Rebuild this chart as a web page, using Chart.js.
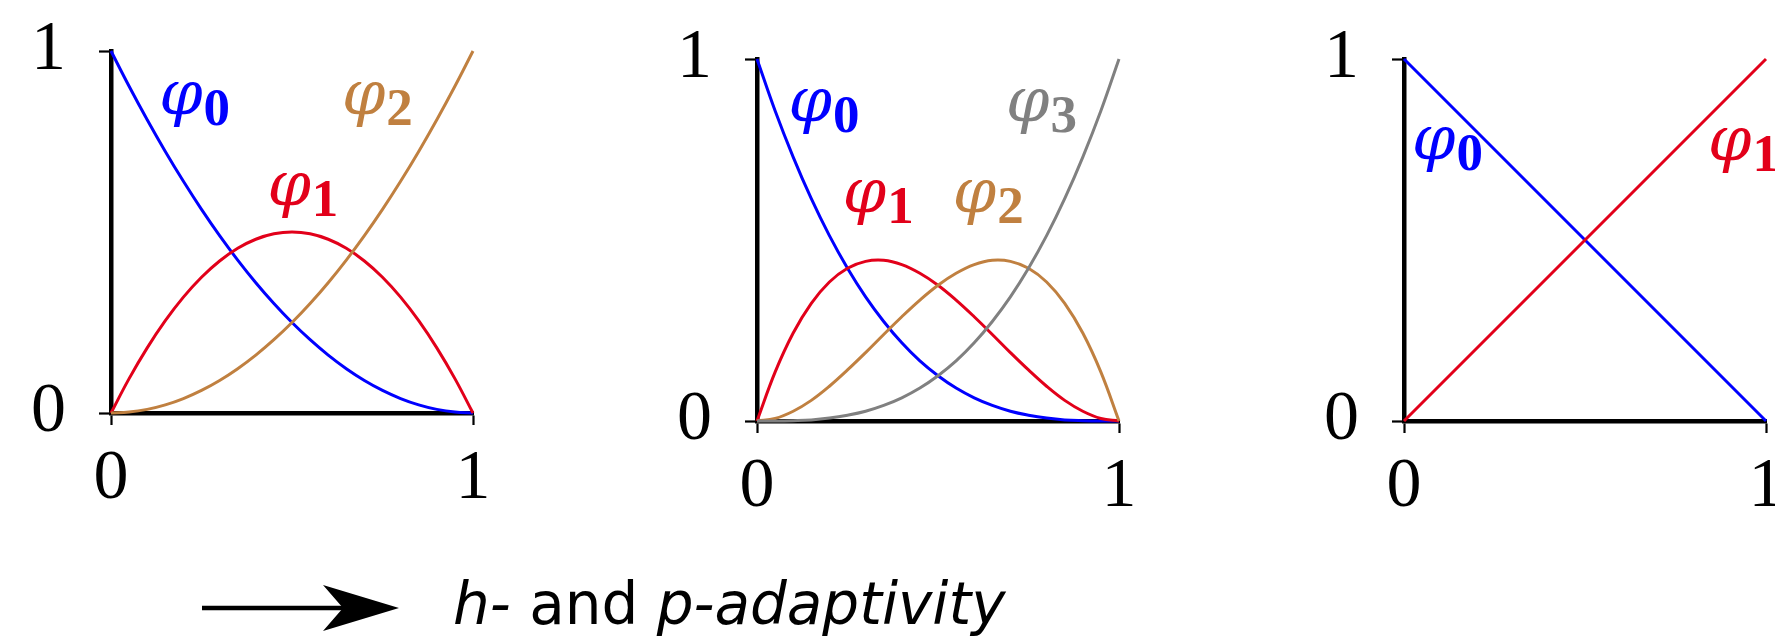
<!DOCTYPE html>
<html>
<head>
<meta charset="utf-8">
<script src="https://cdn.jsdelivr.net/npm/chart.js@4.4.1/dist/chart.umd.min.js"></script>
<style>
  html, body { margin: 0; padding: 0; background: #fff; overflow: hidden; }
  body { width: 1775px; height: 640px; position: relative; }
  .panel { position: absolute; width: 520px; height: 560px; }
  .panel canvas { display: block; }
  #caption {
    position: absolute; left: 453px; top: 575px;
    font: 58px/58px "DejaVu Sans", sans-serif; white-space: nowrap; color: #000;
  }
  #caption i { font-style: italic; }
  #arrow { position: absolute; left: 0; top: 560px; }
</style>
</head>
<body>
<div class="panel" style="left:0;top:0"><canvas id="quad"></canvas></div>
<div class="panel" style="left:646px;top:8px"><canvas id="cubic"></canvas></div>
<div class="panel" style="left:1293px;top:8px"><canvas id="linear"></canvas></div>

<svg id="arrow" width="420" height="80">
  <line x1="202" y1="48" x2="350" y2="48" stroke="#000" stroke-width="4.5"/>
  <polygon points="399,48 323,25 343,48 323,71" fill="#000"/>
</svg>
<div id="caption"><i>h-</i> and <i>p-adaptivity</i></div>

<script>
// sample positions on the reference element [0, 1]
const xs = [0, 0.05, 0.1, 0.15, 0.2, 0.25, 0.3, 0.35, 0.4, 0.45, 0.5,
            0.55, 0.6, 0.65, 0.7, 0.75, 0.8, 0.85, 0.9, 0.95, 1];

// quadratic basis
const quadPhi0 = [1, 0.9025, 0.81, 0.7225, 0.64, 0.5625, 0.49, 0.4225, 0.36, 0.3025, 0.25,
                  0.2025, 0.16, 0.1225, 0.09, 0.0625, 0.04, 0.0225, 0.01, 0.0025, 0];
const quadPhi1 = [0, 0.095, 0.18, 0.255, 0.32, 0.375, 0.42, 0.455, 0.48, 0.495, 0.5,
                  0.495, 0.48, 0.455, 0.42, 0.375, 0.32, 0.255, 0.18, 0.095, 0];
const quadPhi2 = [0, 0.0025, 0.01, 0.0225, 0.04, 0.0625, 0.09, 0.1225, 0.16, 0.2025, 0.25,
                  0.3025, 0.36, 0.4225, 0.49, 0.5625, 0.64, 0.7225, 0.81, 0.9025, 1];

// cubic basis
const cubicPhi0 = [1, 0.857, 0.729, 0.614, 0.512, 0.422, 0.343, 0.275, 0.216, 0.166, 0.125,
                   0.091, 0.064, 0.043, 0.027, 0.016, 0.008, 0.003, 0.001, 0, 0];
const cubicPhi1 = [0, 0.135, 0.243, 0.325, 0.384, 0.422, 0.441, 0.444, 0.432, 0.408, 0.375,
                   0.334, 0.288, 0.239, 0.189, 0.141, 0.096, 0.057, 0.027, 0.007, 0];
const cubicPhi2 = [0, 0.007, 0.027, 0.057, 0.096, 0.141, 0.189, 0.239, 0.288, 0.334, 0.375,
                   0.408, 0.432, 0.444, 0.441, 0.422, 0.384, 0.325, 0.243, 0.135, 0];
const cubicPhi3 = [0, 0, 0.001, 0.003, 0.008, 0.016, 0.027, 0.043, 0.064, 0.091, 0.125,
                   0.166, 0.216, 0.275, 0.343, 0.422, 0.512, 0.614, 0.729, 0.857, 1];

// linear basis
const linXs = [0, 1];
const linPhi0 = [1, 0];
const linPhi1 = [0, 1];

const tickValues = [0, 1];

const BLUE = '#0000ff', RED = '#e2001a', BROWN = '#c08040', GRAY = '#808080';

// phi_i name tags: [subscript, x, y (baseline), colour]
const quadTags = [['0', 0.133, 0.827, BLUE], ['1', 0.432, 0.575, RED], ['2', 0.638, 0.827, BROWN]];
const cubicTags = [['0', 0.087, 0.829, BLUE], ['1', 0.237, 0.578, RED], ['2', 0.541, 0.578, BROWN], ['3', 0.688, 0.829, GRAY]];
const linTags = [['0', 0.022, 0.725, BLUE], ['1', 0.84, 0.721, RED]];

function phiTags(tags) {
  return {
    id: 'phiTags',
    afterDatasetsDraw(chart) {
      const { ctx, scales: { x, y } } = chart;
      ctx.save();
      ctx.textAlign = 'left';
      ctx.textBaseline = 'alphabetic';
      for (const [sub, tx, ty, color] of tags) {
        const px = x.getPixelForValue(tx);
        const py = y.getPixelForValue(ty);
        ctx.fillStyle = color;
        ctx.font = 'italic 62px "DejaVu Serif", serif';
        ctx.fillText('φ', px, py);
        const w = ctx.measureText('φ').width;
        ctx.font = 'bold 53px "Liberation Serif", serif';
        ctx.fillText(sub, px + w + 1, py + 11);
      }
      ctx.restore();
    }
  };
}

const tickFont = { family: '"Liberation Serif", serif', size: 70 };

// fixed axis size, and no extra room reserved for overhanging labels
function fixSize(key, size) {
  return s => {
    s[key] = size;
    s.paddingTop = s.paddingBottom = s.paddingLeft = s.paddingRight = 0;
  };
}

function axis(pad, fit) {
  return {
    type: 'linear',
    min: 0,
    max: 1,
    afterBuildTicks: s => { s.ticks = tickValues.map(v => ({ value: v })); },
    afterFit: fit,
    ticks: { color: '#000', font: tickFont, padding: pad, maxRotation: 0, minRotation: 0, autoSkip: false },
    grid: { drawOnChartArea: false, drawTicks: true, tickLength: 12, tickWidth: 2.2, tickColor: '#000' },
    border: { display: true, color: '#000', width: 4.5 }
  };
}

function basisChart(id, xv, curves, tags) {
  return new Chart(document.getElementById(id), {
    type: 'line',
    data: {
      datasets: curves.map(([vals, color]) => ({
        data: xv.map((x, i) => ({ x, y: vals[i] })),
        borderColor: color,
        borderWidth: 3,
        pointRadius: 0,
        fill: false,
        tension: 0.4,
        clip: false
      }))
    },
    options: {
      responsive: true,
      maintainAspectRatio: false,
      animation: false,
      events: [],
      layout: { padding: { top: 51, right: 47, bottom: 47, left: 0 } },
      plugins: { legend: { display: false }, tooltip: { enabled: false } },
      scales: {
        x: axis(13, fixSize('height', 100)),
        y: axis(33, fixSize('width', 111))
      }
    },
    plugins: [phiTags(tags)]
  });
}

basisChart('quad', xs, [[quadPhi2, BROWN], [quadPhi1, RED], [quadPhi0, BLUE]], quadTags);
basisChart('cubic', xs, [[cubicPhi3, GRAY], [cubicPhi2, BROWN], [cubicPhi1, RED], [cubicPhi0, BLUE]], cubicTags);
basisChart('linear', linXs, [[linPhi1, RED], [linPhi0, BLUE]], linTags);
</script>
</body>
</html>
